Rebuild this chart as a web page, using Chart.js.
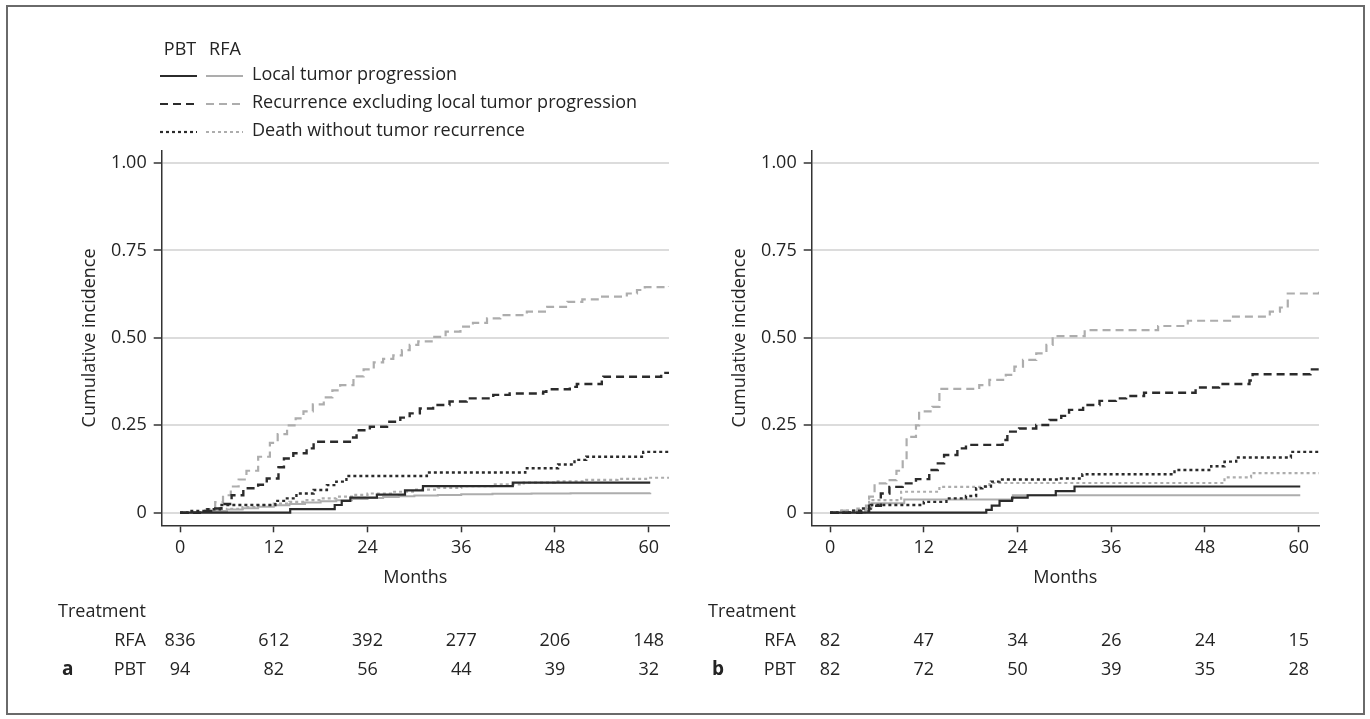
<!DOCTYPE html>
<html>
<head>
<meta charset="utf-8">
<title>Cumulative incidence, PBT vs RFA</title>
<script src="https://cdn.jsdelivr.net/npm/chart.js@4.4.1/dist/chart.umd.min.js"></script>
<style>
  html, body { margin: 0; padding: 0; background: #fff; }
  #fig { position: relative; width: 1370px; height: 719px; overflow: hidden; }
  #frame { position: absolute; left: 6px; top: 5px; width: 1355px; height: 706px; border: 2px solid #6a6a6a; }
  canvas { position: absolute; top: 0; }
  #cA { left: 0; }
  #cB { left: 650px; }
</style>
</head>
<body>
<div id="fig">
  <div id="frame"></div>
  <canvas id="cA" width="685" height="719"></canvas>
  <canvas id="cB" width="685" height="719"></canvas>
</div>
<script>
// Axis ticks and numbers-at-risk
const months = [0, 12, 24, 36, 48, 60];
const yTicks = [0, 0.25, 0.5, 0.75, 1];
const riskA_RFA = [836, 612, 392, 277, 206, 148];
const riskA_PBT = [94, 82, 56, 44, 39, 32];
const riskB_RFA = [82, 47, 34, 26, 24, 15];
const riskB_PBT = [82, 72, 50, 39, 35, 28];

// Panel a: cumulative incidence step points [month, incidence]
const a_pbtLocal = [[0,0],[14.1,0.01],[19.8,0.022],[20.7,0.034],[21.8,0.043],[25.2,0.052],[28.8,0.064],[31.1,0.076],[42.6,0.086],[60.2,0.086]];
const a_rfaLocal = [[0,0],[2,0.002],[4,0.005],[6,0.009],[8,0.013],[10,0.017],[12,0.021],[14,0.025],[16,0.029],[18,0.033],[20,0.036],[22,0.039],[24,0.042],[26,0.045],[28,0.047],[30,0.049],[33,0.051],[36,0.053],[40,0.054],[45,0.055],[50,0.056],[55,0.056],[60.2,0.057]];
const a_pbtRec = [[0,0],[3,0.005],[4.5,0.012],[5.3,0.025],[6.6,0.05],[8.1,0.07],[10,0.08],[11.1,0.098],[12.6,0.13],[13.3,0.155],[14.5,0.17],[16.2,0.184],[17.1,0.203],[21.9,0.215],[22.6,0.236],[24.3,0.246],[26.5,0.26],[28.2,0.272],[29.4,0.284],[30.7,0.298],[32.4,0.308],[34.5,0.318],[36.7,0.327],[40.1,0.337],[42.2,0.341],[46.5,0.346],[46.9,0.353],[49.9,0.36],[50.8,0.368],[54,0.375],[54.2,0.389],[61.6,0.4],[62.6,0.4]];
const a_rfaRec = [[0,0],[2,0.002],[3.4,0.01],[4.5,0.03],[5.5,0.05],[6.5,0.075],[7.5,0.095],[8.5,0.12],[10,0.16],[11.5,0.2],[12.5,0.225],[13.7,0.25],[14.8,0.27],[15.8,0.29],[17,0.31],[18.4,0.33],[19.5,0.35],[20.5,0.365],[22.2,0.39],[23.5,0.41],[24.8,0.43],[26,0.44],[27.3,0.45],[28.4,0.465],[29.4,0.48],[30.5,0.49],[32.4,0.503],[34,0.518],[35.9,0.532],[37.5,0.543],[39.3,0.556],[41,0.565],[44.4,0.575],[47,0.589],[49.6,0.603],[51.5,0.61],[53.8,0.618],[57.2,0.627],[58.5,0.637],[59.5,0.645],[62.6,0.648]];
const a_pbtDeath = [[0,0],[1.2,0.005],[3.5,0.01],[5.1,0.022],[12.2,0.034],[13.5,0.041],[14.9,0.055],[17.1,0.065],[18.8,0.079],[20,0.089],[21.3,0.105],[31.6,0.115],[44.2,0.127],[48.4,0.138],[50.5,0.151],[52,0.16],[59.3,0.174],[62.6,0.174]];
const a_rfaDeath = [[0,0],[2,0.002],[4,0.006],[6,0.011],[8,0.016],[10,0.021],[12,0.026],[14,0.031],[16,0.036],[18,0.041],[20,0.046],[22,0.051],[24,0.055],[27,0.06],[30,0.066],[33,0.071],[36,0.076],[40,0.081],[44,0.086],[48,0.09],[52,0.094],[56,0.097],[60,0.1],[62.6,0.103]];

// Panel b: cumulative incidence step points [month, incidence]
const b_pbtLocal = [[0,0],[20,0.008],[20.7,0.02],[21.7,0.034],[23.3,0.043],[25.3,0.05],[28.9,0.062],[31.3,0.075],[60.2,0.075]];
const b_rfaLocal = [[0,0],[4.5,0.012],[5.3,0.027],[9.5,0.038],[23.4,0.05],[60.2,0.05]];
const b_pbtRec = [[0,0],[4,0.005],[5,0.02],[6.5,0.055],[7.6,0.074],[9.3,0.084],[11,0.096],[12.7,0.122],[13.8,0.141],[14.6,0.165],[16.3,0.184],[17.4,0.194],[22.1,0.208],[22.7,0.232],[24.2,0.241],[26.4,0.251],[28.1,0.265],[29.6,0.277],[30.6,0.294],[32.4,0.308],[34.5,0.32],[36.6,0.327],[37.9,0.334],[40.2,0.343],[46.8,0.358],[49.8,0.368],[53.7,0.378],[54.1,0.396],[61.5,0.41],[62.6,0.41]];
const b_rfaRec = [[0,0],[1.5,0.006],[3.5,0.012],[4.6,0.02],[5,0.046],[5.7,0.084],[7.2,0.093],[8.5,0.12],[9.3,0.15],[9.8,0.21],[10.2,0.217],[11,0.25],[11.4,0.29],[13.1,0.303],[14,0.354],[19.1,0.365],[20.4,0.38],[22.5,0.394],[23.6,0.418],[24.7,0.437],[26.4,0.456],[27.7,0.48],[28.5,0.505],[32.6,0.522],[42,0.534],[45.8,0.549],[51.4,0.561],[56.3,0.575],[57.6,0.587],[58.6,0.627],[62.6,0.637]];
const b_pbtDeath = [[0,0],[2.5,0.006],[4,0.012],[5.2,0.022],[12,0.031],[14.9,0.041],[17.4,0.048],[18.7,0.07],[19.5,0.075],[20.6,0.089],[21.7,0.095],[29.4,0.098],[32.3,0.11],[44.1,0.122],[48.8,0.133],[50.5,0.146],[52,0.158],[59,0.174],[62.6,0.174]];
const b_rfaDeath = [[0,0],[1,0.006],[5,0.036],[9.1,0.06],[14,0.074],[20.4,0.085],[50.5,0.101],[53.9,0.113],[62.6,0.113]];

const FONT = "'Open Sans', 'DejaVu Sans', sans-serif";
const INK = '#242424';
const DARK = '#2b2b2b';
const LIGHT = '#adadad';
const SOLID = [];
const DASH = [8, 5];
const DOT = [3, 3];

function series(label, pts, color, dash, width) {
  return {
    label,
    data: pts.map(p => ({ x: p[0], y: p[1] })),
    borderColor: color,
    borderDash: dash,
    borderWidth: width,
    stepped: 'before',
    pointRadius: 0,
    fill: false,
    tension: 0
  };
}

// Numbers-at-risk table under each panel, plus the panel letter
const riskTable = {
  id: 'riskTable',
  afterDraw(chart, args, opts) {
    const ctx = chart.ctx;
    const xs = chart.scales.x;
    ctx.save();
    ctx.fillStyle = INK;
    ctx.textBaseline = 'middle';
    ctx.font = `18px ${FONT}`;
    ctx.textAlign = 'left';
    ctx.fillText('Treatment', 58, 612);
    opts.rows.forEach((row, i) => {
      const y = 641 + i * 28.5;
      ctx.textAlign = 'right';
      ctx.fillText(row.name, 146, y);
      ctx.textAlign = 'center';
      row.values.forEach((v, j) => ctx.fillText(String(v), xs.getPixelForValue(months[j]), y));
    });
    ctx.font = `bold 19px ${FONT}`;
    ctx.textAlign = 'left';
    ctx.fillText(opts.letter, 62, 669.5);
    ctx.restore();
  }
};

// Line-type key drawn above panel a
const lineKey = {
  id: 'lineKey',
  afterDraw(chart, args, opts) {
    if (!opts.show) return;
    const ctx = chart.ctx;
    ctx.save();
    ctx.fillStyle = INK;
    ctx.textBaseline = 'middle';
    ctx.font = `18px ${FONT}`;
    ctx.textAlign = 'center';
    ctx.fillText('PBT', 180, 50);
    ctx.fillText('RFA', 225, 50);
    const rows = [
      ['Local tumor progression', SOLID, 76],
      ['Recurrence excluding local tumor progression', DASH, 104],
      ['Death without tumor recurrence', DOT, 132]
    ];
    rows.forEach(([text, dash, y]) => {
      [[160, 197, DARK, 2.2], [206, 243, LIGHT, 2]].forEach(([x0, x1, c, w]) => {
        ctx.beginPath();
        ctx.setLineDash(dash);
        ctx.strokeStyle = c;
        ctx.lineWidth = w;
        ctx.moveTo(x0, y);
        ctx.lineTo(x1, y);
        ctx.stroke();
      });
      ctx.setLineDash([]);
      ctx.textAlign = 'left';
      ctx.fillText(text, 252, y - 1);
    });
    ctx.restore();
  }
};

function makePanel(canvasId, sets, rows, letter, showKey) {
  return new Chart(document.getElementById(canvasId), {
    type: 'line',
    data: {
      datasets: [
        series('PBT local tumor progression', sets.pbtLocal, DARK, SOLID, 2.2),
        series('PBT recurrence excluding local tumor progression', sets.pbtRec, DARK, DASH, 2.4),
        series('PBT death without tumor recurrence', sets.pbtDeath, DARK, DOT, 2.4),
        series('RFA local tumor progression', sets.rfaLocal, LIGHT, SOLID, 2),
        series('RFA recurrence excluding local tumor progression', sets.rfaRec, LIGHT, DASH, 2.2),
        series('RFA death without tumor recurrence', sets.rfaDeath, LIGHT, DOT, 2.2)
      ]
    },
    plugins: [riskTable, lineKey],
    options: {
      responsive: false,
      animation: false,
      devicePixelRatio: 1,
      layout: { padding: { left: 0, top: 150.5, right: 16, bottom: 130.2 } },
      plugins: {
        legend: { display: false },
        tooltip: { enabled: false },
        riskTable: { rows, letter },
        lineKey: { show: showKey }
      },
      scales: {
        x: {
          type: 'linear',
          min: -2.35,
          max: 62.6,
          afterBuildTicks: s => { s.ticks = months.map(v => ({ value: v })); },
          afterFit: s => { s.height = 63.5; },
          grid: { display: true, drawOnChartArea: false, drawTicks: true, tickLength: 7, tickColor: '#333', tickWidth: 1.5 },
          border: { display: true, color: '#333', width: 1.5 },
          ticks: { color: INK, font: { family: FONT, size: 18 }, padding: 5, maxRotation: 0, autoSkip: false },
          title: { display: true, text: 'Months', color: INK, font: { family: FONT, size: 18 }, padding: { top: 0, bottom: 0 } }
        },
        y: {
          type: 'linear',
          min: -0.036,
          max: 1.036,
          afterBuildTicks: s => { s.ticks = yTicks.map(v => ({ value: v })); },
          afterFit: s => { s.width = 161.7; },
          grid: { display: true, color: '#dcdcdc', lineWidth: 2, drawTicks: true, tickLength: 8, tickColor: '#333', tickWidth: 1.5 },
          border: { display: true, color: '#333', width: 1.5 },
          ticks: {
            color: INK,
            font: { family: FONT, size: 18 },
            padding: 7,
            callback: v => (v === 0 ? '0' : v.toFixed(2))
          },
          title: { display: true, text: 'Cumulative incidence', color: INK, font: { family: FONT, size: 18 }, padding: { top: 79, bottom: 0 } }
        }
      }
    }
  });
}

makePanel('cA',
  { pbtLocal: a_pbtLocal, pbtRec: a_pbtRec, pbtDeath: a_pbtDeath, rfaLocal: a_rfaLocal, rfaRec: a_rfaRec, rfaDeath: a_rfaDeath },
  [{ name: 'RFA', values: riskA_RFA }, { name: 'PBT', values: riskA_PBT }],
  'a', true);

makePanel('cB',
  { pbtLocal: b_pbtLocal, pbtRec: b_pbtRec, pbtDeath: b_pbtDeath, rfaLocal: b_rfaLocal, rfaRec: b_rfaRec, rfaDeath: b_rfaDeath },
  [{ name: 'RFA', values: riskB_RFA }, { name: 'PBT', values: riskB_PBT }],
  'b', false);
</script>
</body>
</html>
